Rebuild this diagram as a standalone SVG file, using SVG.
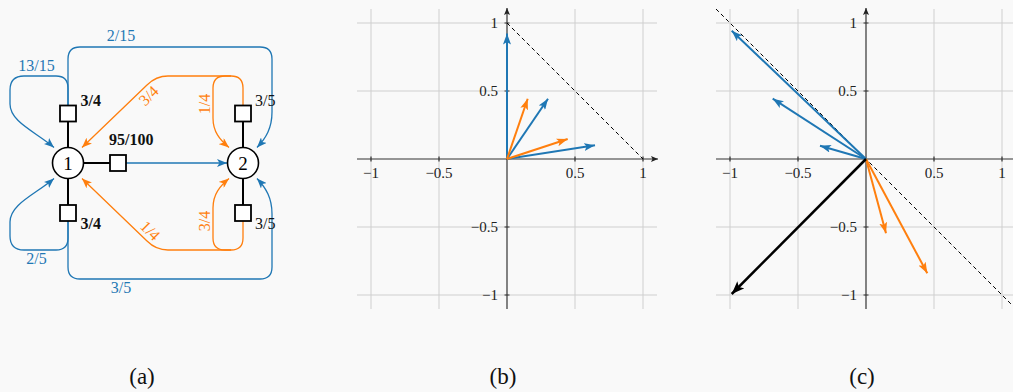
<svg xmlns="http://www.w3.org/2000/svg" width="1013" height="392" viewBox="0 0 1013 392">
<style>
text{font-family:"Liberation Serif","DejaVu Serif",serif}
.lb{font-size:16px}
.bold{font-weight:bold;fill:#111}
.tk{font-size:15px;fill:#222}
.cap{font-size:23px;fill:#111}
.bl{fill:#1f77b4}
.or{fill:#ff7f0e}
.eb{fill:none;stroke:#1f77b4;stroke-width:1.3}
.eo{fill:none;stroke:#ff7f0e;stroke-width:1.3}
.ek{fill:none;stroke:#000;stroke-width:2}
.node{fill:#fff;stroke:#000;stroke-width:1.6}
.sq{fill:#fff;stroke:#000;stroke-width:1.8}
.grid{stroke:#cfcfcf;stroke-width:1;fill:none}
.axis{stroke:#333;stroke-width:1.2;fill:none}
.vb{stroke:#1f77b4;stroke-width:2;fill:none}
.vo{stroke:#ff7f0e;stroke-width:2;fill:none}
.vk{stroke:#000;stroke-width:2.5;fill:none}
.dash{stroke:#000;stroke-width:1;stroke-dasharray:4 3;fill:none}
</style>
<defs>
<marker id="mb" markerUnits="userSpaceOnUse" markerWidth="10" markerHeight="8" refX="10" refY="4" orient="auto"><path d="M0,0 L10,4 L0,8 L2.5,4z" fill="#1f77b4"/></marker>
<marker id="mo" markerUnits="userSpaceOnUse" markerWidth="10" markerHeight="8" refX="10" refY="4" orient="auto"><path d="M0,0 L10,4 L0,8 L2.5,4z" fill="#ff7f0e"/></marker>
<marker id="vb" markerUnits="userSpaceOnUse" markerWidth="11" markerHeight="8" refX="11" refY="4" orient="auto"><path d="M0,0 L11,4 L0,8 L2.5,4z" fill="#1f77b4"/></marker>
<marker id="vo" markerUnits="userSpaceOnUse" markerWidth="11" markerHeight="8" refX="11" refY="4" orient="auto"><path d="M0,0 L11,4 L0,8 L2.5,4z" fill="#ff7f0e"/></marker>
<marker id="vk" markerUnits="userSpaceOnUse" markerWidth="13" markerHeight="10" refX="13" refY="5" orient="auto"><path d="M0,0 L13,5 L0,10 L3,5z" fill="#000"/></marker>
<marker id="ax" markerUnits="userSpaceOnUse" markerWidth="7" markerHeight="6" refX="7" refY="3" orient="auto"><path d="M0,0 L7,3 L0,6 L1.5,3z" fill="#222"/></marker>
</defs>
<rect width="1013" height="392" fill="#f9f9f9"/>

<!-- (a) graph -->
<g id="connectors">
<path class="ek" d="M68,147.5 V121.5 M68,178.5 V205 M83.5,163 H110 M243,147.5 V121.5 M243,178.5 V205"/>
<path class="eb" marker-end="url(#mb)" d="M126,163 H227"/>
<path class="eb" marker-end="url(#mb)" d="M68,105.5 V88 Q68,76 56,76 H24 Q10,76 10,90 V104 C10,122 36,132 54,147.5"/>
<path class="eb" marker-end="url(#mb)" d="M68,105.5 V59 Q68,47 80,47 H260 Q272,47 272,59 V112 C272,128 266,138 257,147.5"/>
<path class="eb" marker-end="url(#mb)" d="M68,221 V238 Q68,250 56,250 H24 Q10,250 10,236 V222 C10,204 36,194 54,178.5"/>
<path class="eb" marker-end="url(#mb)" d="M68,221 V267 Q68,279 80,279 H260 Q272,279 272,267 V214 C272,198 266,188 257,178.5"/>
<path class="eo" marker-end="url(#mo)" d="M243,105.5 V88 Q243,76 231,76 H225 Q213,76 213,88 V118 C213,132 220,140 229,147.5"/>
<path class="eo" marker-end="url(#mo)" d="M231,76 H168 Q156,76 147,85 L82,147.5"/>
<path class="eo" marker-end="url(#mo)" d="M243,221 V238 Q243,250 231,250 H225 Q213,250 213,238 V208 C213,194 220,186 229,178.5"/>
<path class="eo" marker-end="url(#mo)" d="M231,250 H168 Q156,250 147,241 L82,178.5"/>
<text class="lb bl" x="36.5" y="71" text-anchor="middle">13/15</text>
<text class="lb bl" x="121" y="41" text-anchor="middle">2/15</text>
<text class="lb bl" x="36.5" y="264" text-anchor="middle">2/5</text>
<text class="lb bl" x="121" y="293" text-anchor="middle">3/5</text>
<text class="lb or" text-anchor="middle" transform="translate(152.5,99.5) rotate(-45)">3/4</text>
<text class="lb or" text-anchor="middle" transform="translate(209.5,104) rotate(-90)">1/4</text>
<text class="lb or" text-anchor="middle" transform="translate(146.5,234.5) rotate(45)">1/4</text>
<text class="lb or" text-anchor="middle" transform="translate(209.5,221) rotate(-90)">3/4</text>
</g>
<g id="node1"><circle class="node" cx="68" cy="163" r="15.5"/><text x="68" y="169.5" text-anchor="middle" font-size="19">1</text></g>
<g id="node2"><circle class="node" cx="243" cy="163" r="15.5"/><text x="243" y="169.5" text-anchor="middle" font-size="19">2</text></g>
<g id="sq1top"><rect class="sq" x="60" y="105.5" width="16" height="16"/><text class="lb bold" x="80.5" y="106">3/4</text></g>
<g id="sq1bot"><rect class="sq" x="60" y="205" width="16" height="16"/><text class="lb bold" x="80.5" y="229">3/4</text></g>
<g id="sq12"><rect class="sq" x="110" y="155" width="16" height="16"/><text class="lb bold" x="109" y="145">95/100</text></g>
<g id="sq2top"><rect class="sq" x="235" y="105.5" width="16" height="16"/><text class="lb" x="255" y="106" fill="#111">3/5</text></g>
<g id="sq2bot"><rect class="sq" x="235" y="205" width="16" height="16"/><text class="lb" x="255" y="229" fill="#111">3/5</text></g>

<!-- (b) plot -->
<g id="plotb">
<path class="grid" d="M371,9 V309 M439,9 V309 M575,9 V309 M643,9 V309 M357,23 H657 M357,91 H657 M357,227 H657 M357,295 H657"/>
<path class="axis" marker-end="url(#ax)" d="M357,159 H658"/>
<path class="axis" marker-end="url(#ax)" d="M507,309 V8"/>
<path class="axis" d="M371,156.5 V161.5 M439,156.5 V161.5 M575,156.5 V161.5 M643,156.5 V161.5 M504.5,23 H509.5 M504.5,91 H509.5 M504.5,227 H509.5 M504.5,295 H509.5"/>
<path class="dash" d="M507,23 L643,159"/>
<text class="tk" x="371" y="178" text-anchor="middle">−1</text>
<text class="tk" x="439" y="178" text-anchor="middle">−0.5</text>
<text class="tk" x="575" y="178" text-anchor="middle">0.5</text>
<text class="tk" x="643" y="178" text-anchor="middle">1</text>
<text class="tk" x="498" y="28" text-anchor="end">1</text>
<text class="tk" x="498" y="96" text-anchor="end">0.5</text>
<text class="tk" x="498" y="232" text-anchor="end">−0.5</text>
<text class="tk" x="498" y="300" text-anchor="end">−1</text>
<path class="vb" marker-end="url(#vb)" d="M507,159 L507,33.5"/>
<path class="vb" marker-end="url(#vb)" d="M507,159 L548,98.7"/>
<path class="vb" marker-end="url(#vb)" d="M507,159 L595,145.3"/>
<path class="vo" marker-end="url(#vo)" d="M507,159 L527.7,98.7"/>
<path class="vo" marker-end="url(#vo)" d="M507,159 L567.7,139"/>
</g>

<!-- (c) plot -->
<g id="plotc">
<path class="grid" d="M730,9 V309 M798,9 V309 M934,9 V309 M1002,9 V309 M716,23 H1013 M716,91 H1013 M716,227 H1013 M716,295 H1013"/>
<path class="axis" d="M716,159 H1013"/>
<path class="axis" marker-end="url(#ax)" d="M866,309 V8"/>
<path class="axis" d="M730,156.5 V161.5 M798,156.5 V161.5 M934,156.5 V161.5 M1002,156.5 V161.5 M863.5,23 H868.5 M863.5,91 H868.5 M863.5,227 H868.5 M863.5,295 H868.5"/>
<path class="dash" d="M716,9 L1016,309"/>
<text class="tk" x="730" y="178" text-anchor="middle">−1</text>
<text class="tk" x="798" y="178" text-anchor="middle">−0.5</text>
<text class="tk" x="934" y="178" text-anchor="middle">0.5</text>
<text class="tk" x="1002" y="178" text-anchor="middle">1</text>
<text class="tk" x="857" y="28" text-anchor="end">1</text>
<text class="tk" x="857" y="96" text-anchor="end">0.5</text>
<text class="tk" x="857" y="232" text-anchor="end">−0.5</text>
<text class="tk" x="857" y="300" text-anchor="end">−1</text>
<path class="vb" marker-end="url(#vb)" d="M866,159 L731.7,30.7"/>
<path class="vb" marker-end="url(#vb)" d="M866,159 L772.7,98.7"/>
<path class="vb" marker-end="url(#vb)" d="M866,159 L820,145.7"/>
<path class="vo" marker-end="url(#vo)" d="M866,159 L886,233.3"/>
<path class="vo" marker-end="url(#vo)" d="M866,159 L927.3,273.3"/>
<path class="vk" marker-end="url(#vk)" d="M866,159 L731.7,294"/>
</g>

<text class="cap" x="142" y="384" text-anchor="middle">(a)</text>
<text class="cap" x="503" y="384" text-anchor="middle">(b)</text>
<text class="cap" x="862" y="384" text-anchor="middle">(c)</text>
</svg>
